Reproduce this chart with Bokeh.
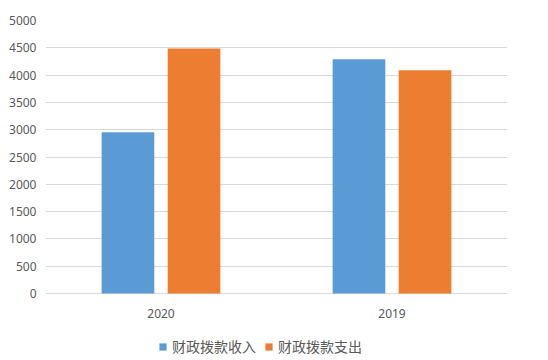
from bokeh.plotting import figure
from bokeh.models import ColumnDataSource, FactorRange, Range1d, Legend, LegendItem, FixedTicker
from bokeh.transform import dodge
from bokeh.embed import file_html
from bokeh.resources import INLINE

years = ["2020", "2019"]
income = [2955, 4290]
expense = [4485, 4090]
series_names = ["财政拨款收入", "财政拨款支出"]
y_ticks = [0, 500, 1000, 1500, 2000, 2500, 3000, 3500, 4000, 4500, 5000]

src = ColumnDataSource(dict(year=years, income=income, expense=expense,
                            base=[0] * len(years)))

# frame runs to the bottom of the canvas so that the legend can sit below the bars
p = figure(x_range=FactorRange(*years, range_padding=0), y_range=Range1d(-1227, 5000),
           width=548, height=360, output_backend="svg", toolbar_location=None,
           x_axis_location=None,
           min_border_left=45, min_border_right=41, min_border_top=20, min_border_bottom=0)

r1 = p.vbar(x=dodge("year", -0.143, range=p.x_range), top="income", width=0.228, source=src,
            fill_color="#5B9BD5", line_color=None)
r2 = p.vbar(x=dodge("year", 0.143, range=p.x_range), top="expense", width=0.228, source=src,
            fill_color="#ED7D31", line_color=None)

# category labels under the baseline
p.text(x="year", y="base", text="year", source=src, y_offset=20,
       text_align="center", text_baseline="middle", text_font_size="12px",
       text_color="#595959", text_font={"value": "Noto Sans"})

p.outline_line_color = None
p.xgrid.grid_line_color = None
p.ygrid.grid_line_color = "#D9D9D9"
p.ygrid.grid_line_width = 1
p.yaxis.ticker = FixedTicker(ticks=y_ticks)
p.yaxis.major_tick_out = 0
p.yaxis.major_tick_in = 0
p.yaxis.minor_tick_out = 0
p.yaxis.minor_tick_in = 0
p.yaxis.major_label_text_color = "#595959"
p.yaxis.major_label_text_font = "Noto Sans"
p.yaxis.major_label_text_font_size = "12px"
p.yaxis.axis_line_color = None
p.yaxis.major_label_standoff = 9

legend = Legend(items=[LegendItem(label=series_names[0], renderers=[r1]),
                       LegendItem(label=series_names[1], renderers=[r2])],
                location=(113, 4), orientation="horizontal",
                glyph_width=9, glyph_height=9, label_standoff=5, spacing=8,
                padding=0, margin=0, border_line_color=None, background_fill_alpha=0,
                label_text_font="Noto Sans CJK SC", label_text_font_size="14px",
                label_text_color="#595959")
p.add_layout(legend)

open("out.html", "w").write(file_html(p, INLINE))
